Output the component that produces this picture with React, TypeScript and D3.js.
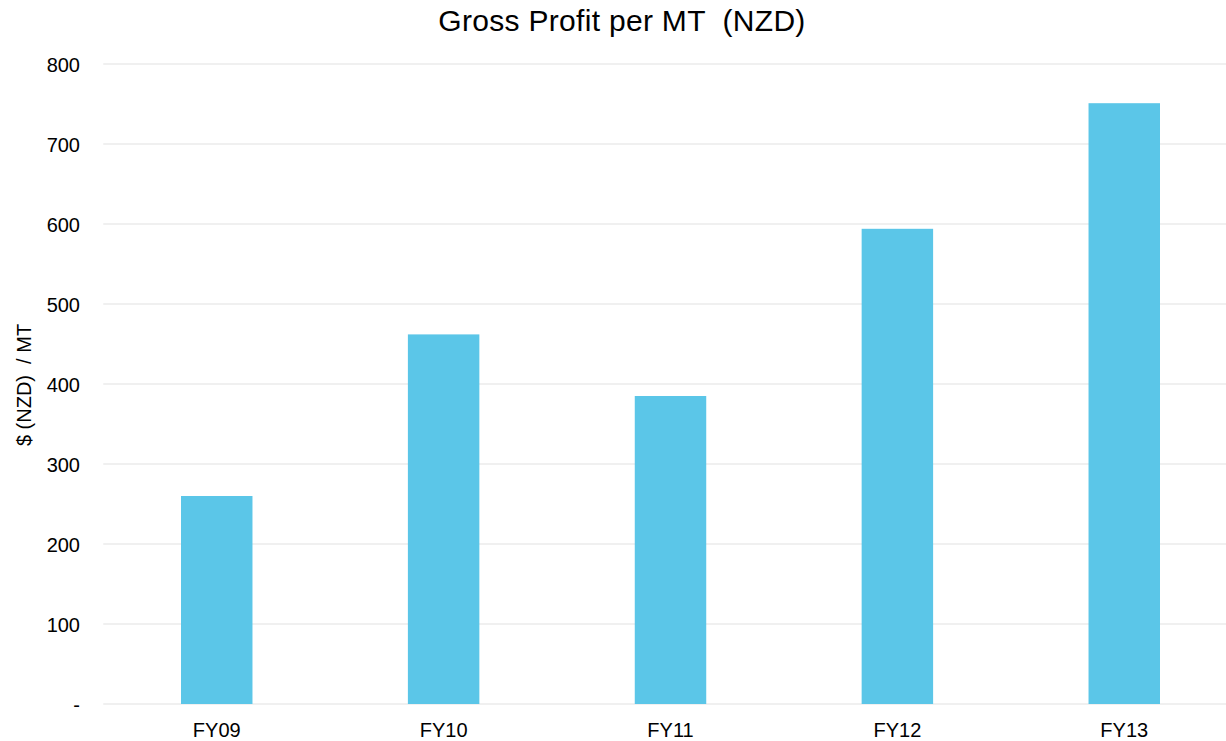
import React from "react";
import * as d3 from "d3";

const categories = ["FY09", "FY10", "FY11", "FY12", "FY13"];
const values = [260, 462, 385, 594, 751];
const yTicks = [0, 100, 200, 300, 400, 500, 600, 700, 800];

const W = 1226;
const H = 741;
const left = 103.3;
const right = 1237.7;
const top = 64;
const bottom = 704;

export default function App() {
  const x = d3.scaleBand<string>().domain(categories).range([left, right]).paddingInner(0.685).paddingOuter(0.3425);
  const y = d3.scaleLinear().domain([0, 800]).range([bottom, top]);
  const font = "'Liberation Sans', Arial, sans-serif";
  return (
    <svg width={W} height={H} style={{ position: "absolute", left: 0, top: 0, background: "#fff" }} fontFamily={font}>
      <text x={622} y={31} textAnchor="middle" fontSize={30} letterSpacing={0.3} fill="#000" style={{ whiteSpace: "pre" }}>{"Gross Profit per MT  (NZD)"}</text>
      {yTicks.map((t) => (
        <g key={t}>
          <line x1={left} x2={W} y1={y(t)} y2={y(t)} stroke="#ebebeb" strokeWidth={1.5} />
          <text x={80} y={y(t) + 7.5} textAnchor="end" fontSize={20} fill="#000">{t === 0 ? "-" : t}</text>
        </g>
      ))}
      {categories.map((c, i) => (
        <rect key={c} x={x(c)} y={y(values[i])} width={x.bandwidth()} height={y(0) - y(values[i])} fill="#5bc6e8" />
      ))}
      {categories.map((c) => (
        <text key={c} x={(x(c) as number) + x.bandwidth() / 2} y={737} textAnchor="middle" fontSize={20} fill="#000">{c}</text>
      ))}
      <text transform={`translate(31,385) rotate(-90)`} textAnchor="middle" fontSize={20} fill="#000" style={{ whiteSpace: "pre" }}>{"$ (NZD)  / MT"}</text>
    </svg>
  );
}
